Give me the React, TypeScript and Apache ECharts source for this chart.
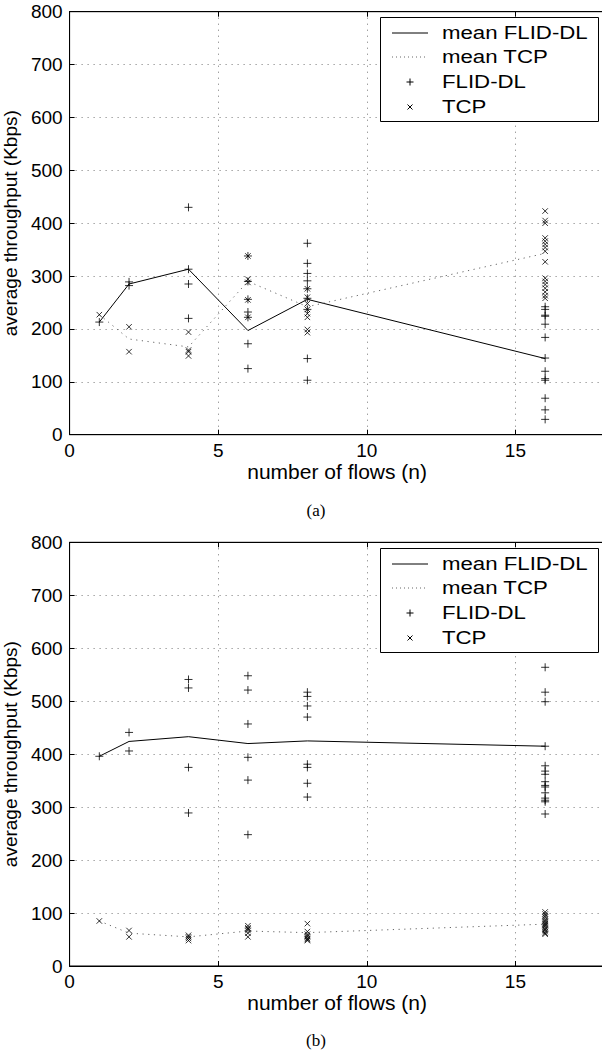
import React, { useEffect, useRef } from "react";
import * as echarts from "echarts";

// number of flows
const N = [1, 2, 4, 6, 8, 16];
const X_TICKS = [0, 5, 10, 15];
const Y_TICKS = [0, 100, 200, 300, 400, 500, 600, 700, 800];

// (a) means
const topMeanFlid = [213, 285, 313, 197, 256, 144];
const topMeanTcp = [227, 181, 166, 290, 242, 343];
// (a) individual flows
const topFlid: number[][] = [
  [213],
  [289, 282],
  [430, 313, 285, 220],
  [338, 290, 256, 232, 222, 172, 125],
  [362, 324, 305, 291, 276, 258, 237, 144, 103],
  [242, 237, 226, 224, 209, 184, 145, 120, 106, 103, 69, 47, 29],
];
const topTcp: number[][] = [
  [227],
  [204, 157],
  [194, 160, 157, 149],
  [338, 294, 288, 255, 222],
  [276, 260, 248, 237, 229, 222, 199, 193],
  [423, 405, 400, 372, 366, 360, 354, 347, 327, 296, 290, 284, 277, 270, 263, 258],
];

// (b) means
const botMeanFlid = [396, 424, 433, 420, 425, 415];
const botMeanTcp = [85, 62, 55, 66, 63, 79];
// (b) individual flows
const botFlid: number[][] = [
  [396],
  [441, 406],
  [541, 525, 375, 289],
  [548, 521, 457, 394, 351, 248],
  [517, 509, 491, 470, 381, 375, 345, 319],
  [564, 517, 499, 415, 378, 368, 362, 348, 341, 338, 327, 317, 313, 310, 287],
];
const botTcp: number[][] = [
  [85],
  [67, 55],
  [58, 55, 52, 48],
  [76, 72, 70, 67, 62, 55],
  [80, 65, 60, 57, 55, 52, 50, 48],
  [102, 98, 95, 92, 88, 85, 82, 80, 78, 76, 73, 70, 68, 65, 62, 60],
];

const LEGEND = ["mean FLID-DL", "mean TCP", "FLID-DL", "TCP"];
const CAPTIONS = ["(a)", "(b)"];

const FONT = "'Liberation Sans', Arial, Helvetica, sans-serif";
const PLUS = "path://M0,5L10,5M5,0L5,10";
const CROSS = "path://M0,0L10,10M10,0L0,10";

const pairs = (lists: number[][]) =>
  lists.flatMap((vals, i) => vals.map((v) => [N[i], v]));
const meanPairs = (m: number[]) => m.map((v, i) => [N[i], v]);

export default function App() {
  const ref = useRef<HTMLDivElement>(null);
  useEffect(() => {
    if (!ref.current) return;
    const chart = echarts.init(ref.current, undefined, { renderer: "svg" });

    const grids = [
      { left: 69.6, top: 11.7, width: 535, height: 423 },
      { left: 69.6, top: 542.3, width: 535, height: 423.7 },
    ];
    const sets = [
      { mf: topMeanFlid, mt: topMeanTcp, f: topFlid, t: topTcp },
      { mf: botMeanFlid, mt: botMeanTcp, f: botFlid, t: botTcp },
    ];

    const axisCommon = {
      type: "value" as const,
      axisLine: { onZero: false, lineStyle: { color: "#000", width: 1 } },
      axisTick: { inside: true, length: 5, lineStyle: { color: "#000" } },
      splitLine: { show: true, lineStyle: { color: "#777", width: 1, type: [1, 5] } },
      nameLocation: "middle" as const,
    };

    const xAxis: any[] = grids.map((_, i) => ({
      ...axisCommon,
      gridIndex: i,
      min: X_TICKS[0],
      max: 18,
      interval: X_TICKS[1] - X_TICKS[0],
      axisLabel: {
        color: "#000",
        fontFamily: FONT,
        fontSize: 19,
        margin: 6,
        formatter: (v: number) => (X_TICKS.includes(v) ? String(v) : ""),
      },
      name: "number of flows (n)",
      nameGap: 25,
      nameTextStyle: { color: "#000", fontFamily: FONT, fontSize: 21 },
    }));
    // box top edge with inward ticks (no labels)
    grids.forEach((_, i) => {
      xAxis.push({
        type: "value",
        gridIndex: i,
        position: "top",
        min: X_TICKS[0],
        max: 18,
        interval: X_TICKS[1] - X_TICKS[0],
        axisLine: { show: true, onZero: false, lineStyle: { color: "#000", width: 1 } },
        axisTick: { show: true, inside: true, length: 5, lineStyle: { color: "#000" } },
        axisLabel: { show: false },
        splitLine: { show: false },
      });
    });
    const yAxis = grids.map((_, i) => ({
      ...axisCommon,
      gridIndex: i,
      min: Y_TICKS[0],
      max: Y_TICKS[Y_TICKS.length - 1],
      interval: Y_TICKS[1] - Y_TICKS[0],
      axisLabel: { color: "#000", fontFamily: FONT, fontSize: 19, margin: 7 },
      name: "average throughput (Kbps)",
      nameGap: 44,
      nameTextStyle: { color: "#000", fontFamily: FONT, fontSize: 19 },
    }));

    const series: any[] = [];
    sets.forEach((s, g) => {
      series.push({
        type: "line",
        name: LEGEND[0],
        xAxisIndex: g,
        yAxisIndex: g,
        data: meanPairs(s.mf),
        symbol: "none",
        lineStyle: { color: "#000", width: 1 },
        z: 3,
      });
      series.push({
        type: "line",
        name: LEGEND[1],
        xAxisIndex: g,
        yAxisIndex: g,
        data: meanPairs(s.mt),
        symbol: "none",
        lineStyle: { color: "#666", width: 1, type: [1.2, 4.5] },
        z: 3,
      });
      series.push({
        type: "scatter",
        name: LEGEND[2],
        xAxisIndex: g,
        yAxisIndex: g,
        data: pairs(s.f),
        symbol: PLUS,
        symbolSize: 8,
        itemStyle: { color: "transparent", borderColor: "#000", borderWidth: 1 },
        z: 4,
      });
      series.push({
        type: "scatter",
        name: LEGEND[3],
        xAxisIndex: g,
        yAxisIndex: g,
        data: pairs(s.t),
        symbol: CROSS,
        symbolSize: 5.5,
        itemStyle: { color: "transparent", borderColor: "#000", borderWidth: 1 },
        z: 4,
      });
    });

    const graphic: any[] = [];
    [0, 531].forEach((oy) => {
      graphic.push({
        type: "rect",
        z: 100,
        shape: { x: 380.5, y: 17.5 + oy, width: 218, height: 104 },
        style: { fill: "#fff", stroke: "#000", lineWidth: 1 },
      });
      const rows = [33, 57, 82, 107].map((r) => r + oy);
      graphic.push({
        type: "line",
        z: 101,
        shape: { x1: 392, y1: rows[0], x2: 428, y2: rows[0] },
        style: { stroke: "#000", lineWidth: 1 },
      });
      graphic.push({
        type: "line",
        z: 101,
        shape: { x1: 392, y1: rows[1], x2: 428, y2: rows[1] },
        style: { stroke: "#666", lineWidth: 1, lineDash: [1, 3] },
      });
      graphic.push({
        type: "line",
        z: 101,
        shape: { x1: 406.5, y1: rows[2], x2: 413.5, y2: rows[2] },
        style: { stroke: "#000", lineWidth: 1 },
      });
      graphic.push({
        type: "line",
        z: 101,
        shape: { x1: 410, y1: rows[2] - 3.5, x2: 410, y2: rows[2] + 3.5 },
        style: { stroke: "#000", lineWidth: 1 },
      });
      graphic.push({
        type: "line",
        z: 101,
        shape: { x1: 407.5, y1: rows[3] - 2.5, x2: 412.5, y2: rows[3] + 2.5 },
        style: { stroke: "#000", lineWidth: 1 },
      });
      graphic.push({
        type: "line",
        z: 101,
        shape: { x1: 412.5, y1: rows[3] - 2.5, x2: 407.5, y2: rows[3] + 2.5 },
        style: { stroke: "#000", lineWidth: 1 },
      });
      LEGEND.forEach((t, i) => {
        graphic.push({
          type: "text",
          z: 102,
          x: 442,
          y: rows[i],
          scaleX: 1.27,
          style: {
            text: t,
            fill: "#000",
            fontFamily: FONT,
            fontSize: 17.5,
            align: "left",
            verticalAlign: "middle",
          },
        });
      });
    });
    CAPTIONS.forEach((c, i) => {
      graphic.push({
        type: "text",
        z: 102,
        x: 316,
        y: i === 0 ? 510 : 1040,
        style: {
          text: c,
          fill: "#000",
          fontFamily: "'Liberation Serif', 'Times New Roman', serif",
          fontSize: 17,
          align: "center",
          verticalAlign: "middle",
        },
      });
    });

    chart.setOption({
      animation: false,
      backgroundColor: "#fff",
      grid: grids.map((g) => ({
        ...g,
        show: true,
        borderColor: "#000",
        borderWidth: 1,
        backgroundColor: "transparent",
        containLabel: false,
        outerBoundsMode: "none",
      })),
      xAxis,
      yAxis,
      series,
      graphic,
    });
    return () => chart.dispose();
  }, []);

  return (
    <div
      style={{
        position: "absolute",
        left: 0,
        top: 0,
        width: 602,
        height: 1053,
        overflow: "hidden",
        background: "#fff",
      }}
    >
      <div ref={ref} style={{ width: 612, height: 1053 }} />
    </div>
  );
}
